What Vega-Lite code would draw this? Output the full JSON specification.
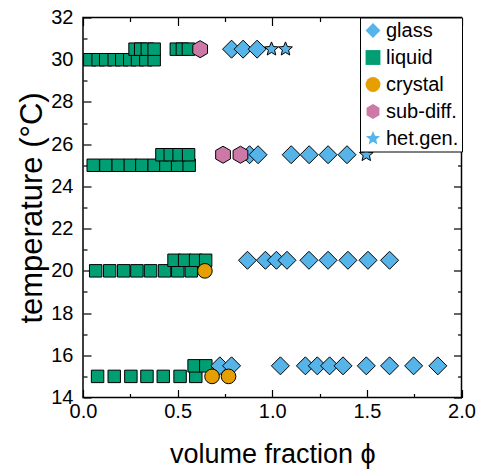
{
  "$schema": "https://vega.github.io/schema/vega-lite/v6.json",
  "width": 378.5,
  "height": 380,
  "autosize": "none",
  "padding": {"left": 83, "top": 17.5, "right": 20.5, "bottom": 77.5},
  "config": {
    "font": "Liberation Sans",
    "view": {"stroke": "black", "strokeWidth": 1.5},
    "axis": {"grid": false, "domain": false, "labelColor": "black", "titleColor": "black", "tickColor": "black", "tickWidth": 1.2, "labelFontSize": 20, "titleFontSize": 27, "titleFontWeight": "normal", "labelFont": "Liberation Sans", "titleFont": "Liberation Sans", "labelFlush": false},
    "legend": {"title": null, "orient": "top-right", "offset": 0, "labelFontSize": 20, "labelColor": "black", "strokeColor": "black", "fillColor": "white", "padding": 3, "rowPadding": 7, "symbolStrokeColor": "black", "symbolStrokeWidth": 1, "labelOffset": 3, "symbolOpacity": 1, "symbolSize": 220}
  },
  "data": {
    "values": [
      {"phi": 0.036, "T": 30, "phase": "liquid"},
      {"phi": 0.080, "T": 30, "phase": "liquid"},
      {"phi": 0.120, "T": 30, "phase": "liquid"},
      {"phi": 0.165, "T": 30, "phase": "liquid"},
      {"phi": 0.205, "T": 30, "phase": "liquid"},
      {"phi": 0.247, "T": 30, "phase": "liquid"},
      {"phi": 0.288, "T": 30, "phase": "liquid"},
      {"phi": 0.332, "T": 30, "phase": "liquid"},
      {"phi": 0.376, "T": 30, "phase": "liquid"},
      {"phi": 0.275, "T": 30.5, "phase": "liquid"},
      {"phi": 0.305, "T": 30.5, "phase": "liquid"},
      {"phi": 0.340, "T": 30.5, "phase": "liquid"},
      {"phi": 0.376, "T": 30.5, "phase": "liquid"},
      {"phi": 0.493, "T": 30.5, "phase": "liquid"},
      {"phi": 0.525, "T": 30.5, "phase": "liquid"},
      {"phi": 0.557, "T": 30.5, "phase": "liquid"},
      {"phi": 0.054, "T": 25, "phase": "liquid"},
      {"phi": 0.121, "T": 25, "phase": "liquid"},
      {"phi": 0.186, "T": 25, "phase": "liquid"},
      {"phi": 0.250, "T": 25, "phase": "liquid"},
      {"phi": 0.311, "T": 25, "phase": "liquid"},
      {"phi": 0.376, "T": 25, "phase": "liquid"},
      {"phi": 0.438, "T": 25, "phase": "liquid"},
      {"phi": 0.500, "T": 25, "phase": "liquid"},
      {"phi": 0.561, "T": 25, "phase": "liquid"},
      {"phi": 0.417, "T": 25.5, "phase": "liquid"},
      {"phi": 0.461, "T": 25.5, "phase": "liquid"},
      {"phi": 0.508, "T": 25.5, "phase": "liquid"},
      {"phi": 0.558, "T": 25.5, "phase": "liquid"},
      {"phi": 0.067, "T": 20, "phase": "liquid"},
      {"phi": 0.141, "T": 20, "phase": "liquid"},
      {"phi": 0.215, "T": 20, "phase": "liquid"},
      {"phi": 0.285, "T": 20, "phase": "liquid"},
      {"phi": 0.357, "T": 20, "phase": "liquid"},
      {"phi": 0.431, "T": 20, "phase": "liquid"},
      {"phi": 0.501, "T": 20, "phase": "liquid"},
      {"phi": 0.572, "T": 20, "phase": "liquid"},
      {"phi": 0.481, "T": 20.5, "phase": "liquid"},
      {"phi": 0.537, "T": 20.5, "phase": "liquid"},
      {"phi": 0.595, "T": 20.5, "phase": "liquid"},
      {"phi": 0.648, "T": 20.5, "phase": "liquid"},
      {"phi": 0.077, "T": 15, "phase": "liquid"},
      {"phi": 0.165, "T": 15, "phase": "liquid"},
      {"phi": 0.253, "T": 15, "phase": "liquid"},
      {"phi": 0.338, "T": 15, "phase": "liquid"},
      {"phi": 0.424, "T": 15, "phase": "liquid"},
      {"phi": 0.513, "T": 15, "phase": "liquid"},
      {"phi": 0.596, "T": 15, "phase": "liquid"},
      {"phi": 0.587, "T": 15.5, "phase": "liquid"},
      {"phi": 0.649, "T": 15.5, "phase": "liquid"},
      {"phi": 0.785, "T": 30.5, "phase": "glass"},
      {"phi": 0.846, "T": 30.5, "phase": "glass"},
      {"phi": 0.920, "T": 30.5, "phase": "glass"},
      {"phi": 0.880, "T": 25.5, "phase": "glass"},
      {"phi": 0.925, "T": 25.5, "phase": "glass"},
      {"phi": 1.100, "T": 25.5, "phase": "glass"},
      {"phi": 1.195, "T": 25.5, "phase": "glass"},
      {"phi": 1.295, "T": 25.5, "phase": "glass"},
      {"phi": 1.395, "T": 25.5, "phase": "glass"},
      {"phi": 0.869, "T": 20.5, "phase": "glass"},
      {"phi": 0.964, "T": 20.5, "phase": "glass"},
      {"phi": 1.022, "T": 20.5, "phase": "glass"},
      {"phi": 1.078, "T": 20.5, "phase": "glass"},
      {"phi": 1.194, "T": 20.5, "phase": "glass"},
      {"phi": 1.295, "T": 20.5, "phase": "glass"},
      {"phi": 1.400, "T": 20.5, "phase": "glass"},
      {"phi": 1.506, "T": 20.5, "phase": "glass"},
      {"phi": 1.620, "T": 20.5, "phase": "glass"},
      {"phi": 0.723, "T": 15.5, "phase": "glass"},
      {"phi": 0.785, "T": 15.5, "phase": "glass"},
      {"phi": 1.043, "T": 15.5, "phase": "glass"},
      {"phi": 1.175, "T": 15.5, "phase": "glass"},
      {"phi": 1.238, "T": 15.5, "phase": "glass"},
      {"phi": 1.303, "T": 15.5, "phase": "glass"},
      {"phi": 1.374, "T": 15.5, "phase": "glass"},
      {"phi": 1.497, "T": 15.5, "phase": "glass"},
      {"phi": 1.620, "T": 15.5, "phase": "glass"},
      {"phi": 1.747, "T": 15.5, "phase": "glass"},
      {"phi": 1.875, "T": 15.5, "phase": "glass"},
      {"phi": 0.644, "T": 20, "phase": "crystal"},
      {"phi": 0.682, "T": 15, "phase": "crystal"},
      {"phi": 0.769, "T": 15, "phase": "crystal"},
      {"phi": 0.619, "T": 30.5, "phase": "sub-diff."},
      {"phi": 0.740, "T": 25.5, "phase": "sub-diff."},
      {"phi": 0.832, "T": 25.5, "phase": "sub-diff."},
      {"phi": 0.996, "T": 30.5, "phase": "het.gen."},
      {"phi": 1.070, "T": 30.5, "phase": "het.gen."},
      {"phi": 1.497, "T": 25.5, "phase": "het.gen."}
    ]
  },
  "encoding": {
    "x": {"field": "phi", "type": "quantitative", "scale": {"domain": [0, 2], "nice": false}, "axis": null},
    "y": {"field": "T", "type": "quantitative", "scale": {"domain": [14, 32], "nice": false}, "axis": null},
    "color": {
      "field": "phase", "type": "nominal",
      "scale": {"domain": ["glass", "liquid", "crystal", "sub-diff.", "het.gen."], "range": ["#56B4E9", "#009E73", "#E69F00", "#CC79A7", "#56B4E9"]}
    },
    "shape": {
      "field": "phase", "type": "nominal",
      "scale": {"domain": ["glass", "liquid", "crystal", "sub-diff.", "het.gen."], "range": ["diamond", "square", "circle", "M0,-1L0.866,-0.5L0.866,0.5L0,1L-0.866,0.5L-0.866,-0.5Z", "M0,-1L0.265,-0.364L0.951,-0.309L0.428,0.139L0.588,0.809L0,0.45L-0.588,0.809L-0.428,0.139L-0.951,-0.309L-0.265,-0.364Z"]}
    }
  },
  "layer": [
    {
      "transform": [{"filter": "datum.phase === 'liquid'"}],
      "mark": {"type": "point", "filled": true, "stroke": "black", "strokeWidth": 1, "opacity": 1, "size": 155},
      "encoding": {
        "x": {
          "field": "phi", "type": "quantitative",
          "axis": {
            "title": "volume fraction ϕ",
            "values": [0, 0.25, 0.5, 0.75, 1, 1.25, 1.5, 1.75, 2],
            "labelExpr": "(datum.value * 4) % 2 === 0 ? format(datum.value, '.1f') : ''",
            "tickSize": {"condition": {"test": "(datum.value * 4) % 2 === 0", "value": -8}, "value": -4},
            "labelPadding": 12,
            "titlePadding": 20
          }
        },
        "y": {
          "field": "T", "type": "quantitative",
          "axis": {
            "title": "temperature (°C)",
            "titleFontSize": 31,
            "values": [14, 15, 16, 17, 18, 19, 20, 21, 22, 23, 24, 25, 26, 27, 28, 29, 30, 31, 32],
            "labelExpr": "datum.value % 2 === 0 ? datum.value : ''",
            "tickSize": {"condition": {"test": "datum.value % 2 === 0", "value": -8}, "value": -4},
            "labelPadding": 18,
            "titlePadding": 2
          }
        }
      }
    },
    {
      "transform": [{"filter": "datum.phase === 'glass'"}],
      "mark": {"type": "point", "filled": true, "stroke": "black", "strokeWidth": 1, "opacity": 1, "size": 324}
    },
    {
      "transform": [{"filter": "datum.phase === 'crystal'"}],
      "mark": {"type": "point", "filled": true, "stroke": "black", "strokeWidth": 1, "opacity": 1, "size": 215}
    },
    {
      "transform": [{"filter": "datum.phase === 'sub-diff.'"}],
      "mark": {"type": "point", "filled": true, "stroke": "black", "strokeWidth": 1, "opacity": 1, "size": 290}
    },
    {
      "transform": [{"filter": "datum.phase === 'het.gen.'"}],
      "mark": {"type": "point", "filled": true, "stroke": "black", "strokeWidth": 1, "opacity": 1, "size": 210}
    },
    {
      "mark": {"type": "point", "opacity": 0},
      "encoding": {
        "color": {"value": "transparent"},
        "shape": {"value": "circle"},
        "x": {
          "field": "phi", "type": "quantitative",
          "axis": {
            "orient": "top", "title": null, "labels": false,
            "values": [0, 0.25, 0.5, 0.75, 1, 1.25, 1.5, 1.75, 2],
            "tickSize": {"condition": {"test": "(datum.value * 4) % 2 === 0", "value": -8}, "value": -4}
          }
        },
        "y": {
          "field": "T", "type": "quantitative",
          "axis": {
            "orient": "right", "title": null, "labels": false,
            "values": [14, 15, 16, 17, 18, 19, 20, 21, 22, 23, 24, 25, 26, 27, 28, 29, 30, 31, 32],
            "tickSize": {"condition": {"test": "datum.value % 2 === 0", "value": -8}, "value": -4}
          }
        }
      }
    }
  ],
  "resolve": {"axis": {"x": "independent", "y": "independent"}}
}
